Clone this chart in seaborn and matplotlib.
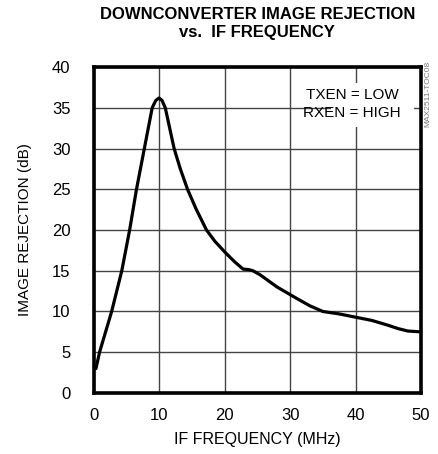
import numpy as np
import pandas as pd
import matplotlib
matplotlib.use("Agg")
import matplotlib.pyplot as plt
import seaborn as sns

# curve (IF frequency in MHz, image rejection in dB)
freq_mhz = [0.3, 0.85, 2.7, 4.25, 5.45, 6.5, 7.7, 8.9, 9.45, 9.95, 10.4, 10.9, 12.25, 13.2,
            14.3, 15.6, 17.2, 18.5, 20.0, 21.5, 22.8, 23.6, 24.3, 25.4, 28.0, 31.0, 33.0,
            35.0, 37.5, 40.0, 42.5, 45.0, 46.5, 48.0, 50.0]
rejection_db = [3.0, 5.0, 10.0, 15.0, 20.0, 25.0, 30.0, 35.0, 35.9, 36.2, 35.9, 35.0, 30.0, 27.5,
                25.0, 22.6, 20.0, 18.6, 17.3, 16.1, 15.2, 15.15, 15.0, 14.5, 13.0, 11.6, 10.7,
                10.0, 9.7, 9.3, 8.9, 8.3, 7.9, 7.6, 7.5]
x_ticks = [0, 10, 20, 30, 40, 50]
y_ticks = [0, 5, 10, 15, 20, 25, 30, 35, 40]

df = pd.DataFrame({"freq": freq_mhz, "rej": rejection_db})

sns.set_style("white")
plt.rcParams['font.family'] = ['Liberation Sans', 'DejaVu Sans']
plt.rcParams['text.color'] = 'black'
plt.rcParams['axes.labelcolor'] = 'black'
plt.rcParams['xtick.color'] = 'black'
plt.rcParams['ytick.color'] = 'black'

fig = plt.figure(figsize=(4.39, 4.54), dpi=100)
ax = fig.add_axes([0.2141, 0.1344, 0.7449, 0.718])

sns.lineplot(data=df, x="freq", y="rej", ax=ax, color="black", linewidth=2.3,
             estimator=None, sort=False)
ax.lines[0].set_solid_joinstyle("round")

ax.set_xlim(0, 50)
ax.set_ylim(0, 40)
ax.set_xticks(x_ticks)
ax.set_yticks(y_ticks)
ax.grid(True, color="#444444", linewidth=1.0)
ax.set_axisbelow(True)
for s in ax.spines.values():
    s.set_visible(True)
    s.set_color("black")
    s.set_linewidth(2.6)
ax.tick_params(axis="both", length=0, labelsize=12)
ax.tick_params(axis="y", pad=17)
ax.tick_params(axis="x", pad=11)

ax.set_xlabel("IF FREQUENCY (MHz)", fontsize=11.5, labelpad=6)
ax.set_ylabel("IMAGE REJECTION (dB)", fontsize=11, labelpad=14)

fig.text(0.586, 0.985, "DOWNCONVERTER IMAGE REJECTION\nvs.  IF FREQUENCY",
         ha="center", va="top", fontsize=12, fontweight="bold", linespacing=1.3)

# white patch behind the condition note, cutting through the grid
ax.axvspan(36.3, 48.9, ymin=0.816, ymax=0.951, facecolor="white", edgecolor="none", zorder=1.5)
ax.text(0.789, 0.935, "TXEN = LOW\nRXEN = HIGH", transform=ax.transAxes,
        ha="center", va="top", fontsize=11, linespacing=1.35, zorder=3)

fig.text(0.975, 0.865, "MAX2511-TOC08", rotation=90, ha="center", va="top",
         fontsize=6, color="#777777")

fig.savefig("out.png", dpi=100)
